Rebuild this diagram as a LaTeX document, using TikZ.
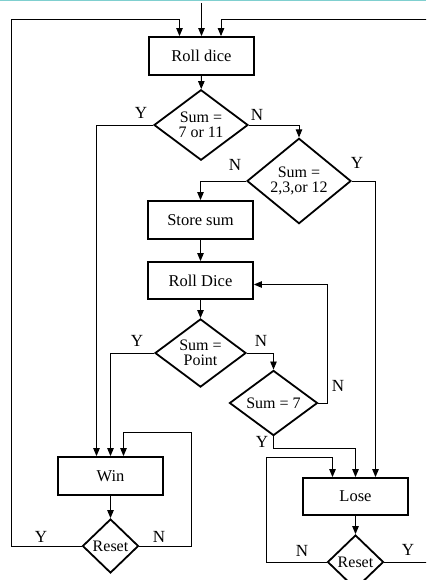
\documentclass[tikz,border=0pt]{standalone}
\usepackage{fontspec}
\setmainfont{Liberation Serif}
\usetikzlibrary{shapes.geometric, positioning, arrows.meta}
\definecolor{topline}{HTML}{7FCFCF}

\begin{document}
\begin{tikzpicture}[x=1pt,y=-1pt,
        box/.style={draw, line width=1.8pt, minimum width=105pt, minimum height=38pt, font=\fontsize{16.5}{15}\selectfont},
        dec/.style={draw, diamond, line width=1.8pt, inner sep=0pt, align=center, font=\fontsize{16}{15}\selectfont},
        flow/.style={line width=0.9pt, -{Triangle[length=8pt,width=6.5pt]}},
        lbl/.style={font=\fontsize{17}{17}\selectfont, inner sep=0pt}]
        \useasboundingbox (0,0) rectangle (426,580);
        \clip (0,0) rectangle (426,580);
        \draw[line width=1.5pt, topline] (0,0.5) -- (426,0.5);
        % boxes and tests
        \node[box] (roll) at (201.5,56) {Roll dice};
        \node[dec, minimum width=94pt, minimum height=58pt] (sum711) at (201,125) {Sum =\\7 or 11};
        \node[dec, minimum width=104pt, minimum height=64pt] (sum212) at (299,181) {Sum =\\2,3,or 12};
        \node[box] (store) at (200.5,220) {Store sum};
        \node[box, minimum height=37pt] (roll2) at (200.5,280.5) {Roll Dice};
        \node[dec, minimum width=91pt, minimum height=56pt] (point) at (200.5,353) {Sum =\\Point};
        \node[dec, minimum width=88pt, minimum height=54pt] (sum7) at (273.5,403) {Sum = 7};
        \node[box] (win) at (110.5,476) {Win};
        \node[dec, minimum width=56pt, minimum height=54pt] (resetw) at (110.5,546) {Reset};
        \node[box, minimum height=37pt] (lose) at (355.5,496.5) {Lose};
        \node[dec, minimum width=56pt, minimum height=54pt] (resetl) at (355.5,562) {Reset};
        \coordinate (start) at (201.5,3);
        % connectors
        \draw[flow] (start) -- (roll);
        \draw[flow] (roll) -- (sum711);
        \draw[flow] (sum711.west) -| ([xshift=-14pt]win.north);
        \draw[flow] (sum711.east) -| (sum212.north);
        \draw[flow] (sum212.west) -| (store.north);
        \draw[flow] (sum212.east) -| ([xshift=20pt]lose.north);
        \draw[flow] (store) -- (roll2);
        \draw[flow] (roll2) -- (point);
        \draw[flow] (point.west) -| (win.north);
        \draw[flow] (point.east) -| (sum7.north);
        \draw[flow] (sum7.east) -- (327,403) |- ([yshift=-4pt]roll2.east);
        \draw[flow] (sum7.south) -- (273.5,448) -| (lose.north);
        \draw[flow] (win) -- (resetw);
        \draw[flow] (resetw.west) -- (11,546) -- (11,19) -| ([xshift=-22pt]roll.north);
        \draw[flow] (resetw.east) -- (191,546) -- (191,432) -| ([xshift=13pt]win.north);
        \draw[flow] (lose) -- (resetl);
        \draw[flow] (resetl.west) -- (266,562) -- (266,457) -| ([xshift=-23pt]lose.north);
        \draw[flow] (resetl.east) -- (432,562) -- (432,19) -| ([xshift=19.5pt]roll.north);
        % branch labels
        \node[lbl] (y1) at (141,113) {Y};
        \node[lbl] (n1) at (257,115) {N};
        \node[lbl] (n2) at (235,165) {N};
        \node[lbl] (y2) at (357,163) {Y};
        \node[lbl] (y3) at (137,341) {Y};
        \node[lbl] (n3) at (261,341) {N};
        \node[lbl] (n4) at (338,386) {N};
        \node[lbl] (y4) at (262,442) {Y};
        \node[lbl] (y5) at (41,537) {Y};
        \node[lbl] (n5) at (159,537) {N};
        \node[lbl] (n6) at (302,551) {N};
        \node[lbl] (y6) at (408,550) {Y};
    \end{tikzpicture}
\end{document}
